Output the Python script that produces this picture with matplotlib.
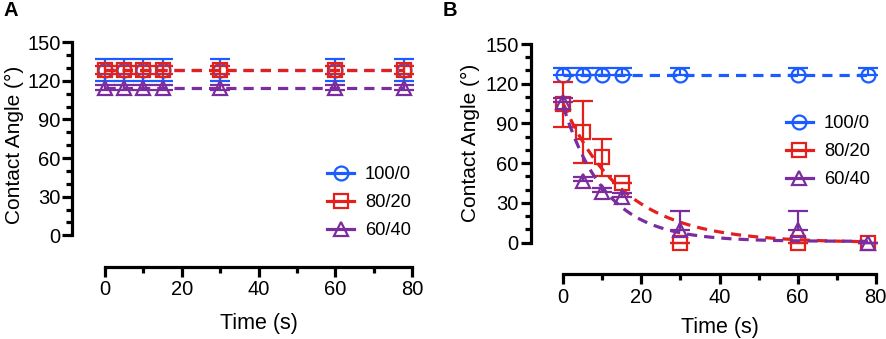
import numpy as np
import matplotlib
matplotlib.use("Agg")
import matplotlib.pyplot as plt
from matplotlib.lines import Line2D
from matplotlib.ticker import MultipleLocator

plt.rcParams['font.family'] = ['Liberation Sans', 'DejaVu Sans']

# ---------------- data ----------------
time_s = [0, 5, 10, 15, 30, 60, 78]
labels = ["100/0", "80/20", "60/40"]

# Panel A
a_100 = [128.5, 128.5, 128.5, 128.5, 128.5, 128.5, 128.5]
a_100_err = [8.5, 8.5, 8.5, 8.5, 8.5, 8.5, 8.5]
a_80 = [128.5, 128.5, 128.5, 128.5, 128.5, 128.5, 128.5]
a_80_err = [3, 3, 3, 3, 3, 3, 3]
a_60 = [114.8, 114.8, 114.8, 114.8, 114.8, 114.8, 114.8]
a_60_err = [2, 2, 2, 2, 2, 2, 2]

# Panel B
b_100 = [126.5, 126.5, 126.5, 126.5, 126.5, 126.5, 126.5]
b_100_err_up = [5.5, 5.5, 5.5, 5.5, 5.5, 5.5, 5.5]
b_80 = [104.4, 83.8, 64.4, 45.3, 0.0, 0.0, 0.0]
b_80_err = [17, 23.5, 14, 0, 0, 0, 0]
b_60 = [106, 46.8, 38.5, 34.7, 9.6, 9.6, 0.0]
b_60_err_up = [3, 3, 3, 3, 14.5, 14, 0]

# one-phase decay fit parameters (y0, k, plateau) for panel B dashed curves
fit_80 = (105.0, 0.064, 0.0)
fit_60 = (103.0, 0.092, 1.0)

colors = ["#1a5cff", "#e3201c", "#7b2c9e"]
markers = ["o", "s", "^"]

W, H = 886, 339
fig = plt.figure(figsize=(W / 100, H / 100), dpi=100)

axA = fig.add_axes([105 / W, (H - 235.3) / H, 307 / W, 193 / H])
axB = fig.add_axes([563.3 / W, (H - 242.7) / H, 312.4 / W, 198.7 / H])

LW = 2.3
MS = 10
MEW = 1.6
dash = (3.2, 2.2)


def style_axes(ax):
    ax.set_xlim(0, 80)
    ax.set_ylim(0, 150)
    for s in ["top", "right"]:
        ax.spines[s].set_visible(False)
    ax.spines['left'].set_position(('outward', 23.5))
    ax.spines['bottom'].set_position(('outward', 22.5))
    ax.spines['left'].set_linewidth(2.3)
    ax.spines['bottom'].set_linewidth(2.3)
    ax.xaxis.set_major_locator(MultipleLocator(20))
    ax.xaxis.set_minor_locator(MultipleLocator(10))
    ax.yaxis.set_major_locator(MultipleLocator(30))
    ax.yaxis.set_minor_locator(MultipleLocator(10))
    ax.tick_params(which='major', length=7, width=2.3, labelsize=14.5, pad=1.5)
    ax.tick_params(which='minor', length=4, width=2.3)
    ax.tick_params(axis='x', which='major', pad=3)
    ax.set_xlabel("Time (s)", fontsize=15.5)
    ax.set_ylabel("Contact Angle (°)", fontsize=15)


def draw_series(ax, x, y, yerr, color, marker, line=True, z=3):
    ax.errorbar(x, y, yerr=yerr, fmt='none', ecolor=color, elinewidth=1.6,
                capsize=7.5, capthick=1.6, clip_on=False, zorder=z)
    if line:
        ax.plot(x, y, ls=(0, dash), color=color, lw=LW, clip_on=False, zorder=z)
    ax.plot(x, y, ls='none', marker=marker, ms=MS, mfc='none', mec=color,
            mew=MEW, clip_on=False, zorder=z + 0.5)


# Panel A
draw_series(axA, time_s, a_100, a_100_err, colors[0], markers[0], z=3)
draw_series(axA, time_s, a_80, a_80_err, colors[1], markers[1], z=4)
draw_series(axA, time_s, a_60, a_60_err, colors[2], markers[2], z=5)

# Panel B
draw_series(axB, time_s, b_100, [np.zeros(len(b_100_err_up)), b_100_err_up],
            colors[0], markers[0], z=3)
draw_series(axB, time_s, b_80, b_80_err, colors[1], markers[1], line=False, z=4)
draw_series(axB, time_s, b_60, [np.zeros(len(b_60_err_up)), b_60_err_up],
            colors[2], markers[2], line=False, z=5)

tt = np.linspace(min(time_s), max(time_s), 300)
for (y0, k, p), c, z in [(fit_80, colors[1], 4), (fit_60, colors[2], 5)]:
    axB.plot(tt, (y0 - p) * np.exp(-k * tt) + p, ls=(0, dash), color=c,
             lw=LW, clip_on=False, zorder=z)

for ax in (axA, axB):
    style_axes(ax)

axA.yaxis.set_label_coords(-0.264, 0.47)
axB.yaxis.set_label_coords(-0.268, 0.5)
axA.xaxis.set_label_coords(0.5, -0.40)
axB.xaxis.set_label_coords(0.5, -0.375)

handles = [Line2D([0], [0], color=c, lw=LW, marker=m, ms=MS, mfc='none', mec=c, mew=MEW)
           for c, m in zip(colors, markers)]

legA = axA.legend(handles, labels, loc='center left', bbox_to_anchor=(0.70, 0.17),
                  frameon=False, fontsize=13.2, handlelength=1.45, handletextpad=0.6,
                  labelspacing=0.6, borderaxespad=0)
legB = axB.legend(handles, labels, loc='center left', bbox_to_anchor=(0.69, 0.458),
                  frameon=False, fontsize=13.2, handlelength=1.45, handletextpad=0.6,
                  labelspacing=0.6, borderaxespad=0)

fig.text(4 / W, 1 - 11 / H, "A", fontsize=14.5, fontweight='bold', va='center', ha='left')
fig.text(443 / W, 1 - 11 / H, "B", fontsize=14.5, fontweight='bold', va='center', ha='left')

fig.savefig("out.png", dpi=100)
